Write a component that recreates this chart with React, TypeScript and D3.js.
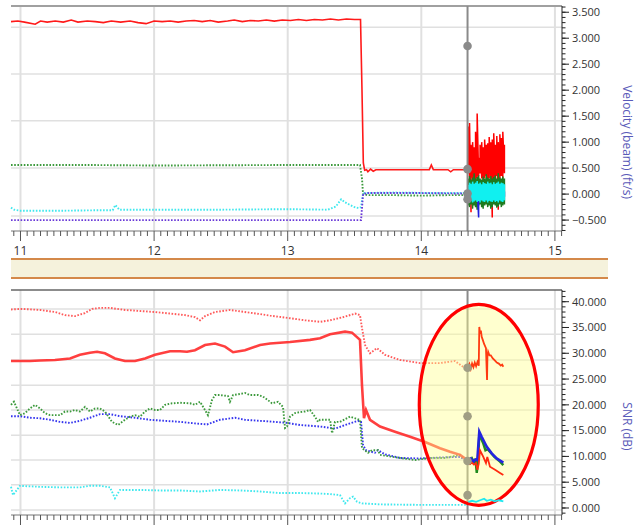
import React from 'react';
import * as d3 from 'd3';

type Pt = [number, number];

// time axis (hours)
const xTicks = [11, 12, 13, 14, 15];
const cursorT = 14.346;

// top panel: velocity (beam) ft/s
const velTicks = [-0.5, 0, 0.5, 1, 1.5, 2, 2.5, 3, 3.5];
const velGrid = [-0.42, 0.5, 1.41, 2.31, 3.21];
const velCursorDots = [2.85, 0.48, 0.01, -0.1];

const velRed: Pt[] = [
  [10.929, 3.32], [10.98, 3.33], [11.03, 3.31], [11.11, 3.27], [11.15, 3.33], [11.2, 3.31], [11.26, 3.33],
  [11.32, 3.31], [11.38, 3.35], [11.43, 3.31], [11.5, 3.33], [11.56, 3.32], [11.62, 3.3], [11.68, 3.33],
  [11.75, 3.31], [11.82, 3.33], [11.88, 3.3], [11.94, 3.28], [12.0, 3.33], [12.06, 3.32], [12.12, 3.33],
  [12.18, 3.31], [12.24, 3.33], [12.3, 3.34], [12.36, 3.32], [12.42, 3.34], [12.48, 3.31], [12.55, 3.33],
  [12.6, 3.35], [12.66, 3.32], [12.72, 3.34], [12.78, 3.33], [12.84, 3.35], [12.9, 3.33], [12.96, 3.35],
  [13.02, 3.34], [13.08, 3.36], [13.14, 3.34], [13.2, 3.36], [13.26, 3.35], [13.32, 3.37], [13.38, 3.35],
  [13.44, 3.37], [13.5, 3.36], [13.545, 3.36], [13.556, 2.0], [13.566, 0.6], [13.576, 0.46], [13.59, 0.47],
  [13.6, 0.43], [13.62, 0.48], [13.64, 0.44], [13.66, 0.47], [13.8, 0.47], [14.06, 0.47], [14.075, 0.56],
  [14.09, 0.47], [14.2, 0.47], [14.22, 0.43], [14.24, 0.47], [14.342, 0.47],
];
const velGreen: Pt[] = [
  [10.929, 0.56], [11.5, 0.56], [12.0, 0.55], [12.5, 0.555], [13.0, 0.56], [13.541, 0.56], [13.556, 0.3],
  [13.564, 0.0], [13.6, -0.02], [13.8, -0.02], [14.0, -0.03], [14.2, -0.02], [14.342, -0.02],
];
const velCyan: Pt[] = [
  [10.929, -0.26], [10.951, -0.3], [11.0, -0.32], [11.3, -0.32], [11.6, -0.31], [11.69, -0.31], [11.71, -0.21],
  [11.74, -0.3], [12.0, -0.3], [12.5, -0.3], [13.0, -0.29], [13.3, -0.3], [13.36, -0.24], [13.4, -0.1],
  [13.43, -0.16], [13.46, -0.2], [13.5, -0.25], [13.53, -0.27], [13.549, -0.25], [13.564, 0.02], [13.8, 0.03],
  [14.1, 0.02], [14.342, 0.02],
];
const velPurple: Pt[] = [
  [10.929, -0.5], [12.0, -0.5], [13.0, -0.5], [13.549, -0.5], [13.564, 0.0], [13.6, 0.02], [14.0, 0.02],
  [14.342, 0.01],
];

// noisy burst after the cursor (low / high envelope per sample)
const noiseT = [
  14.35, 14.361, 14.372, 14.384, 14.395, 14.406, 14.418, 14.429, 14.44, 14.452, 14.463, 14.474, 14.486,
  14.497, 14.508, 14.52, 14.531, 14.542, 14.554, 14.565, 14.576, 14.588, 14.599, 14.61, 14.622,
];
const redLo = [0.4, 0.3, -0.35, 0.3, 0.25, -0.2, 0.3, 0.35, 0.4, 0.3, 0.25, 0.3, 0.35, -0.1, 0.3, 0.35, -0.45, 0.3, 0.25, 0.35, -0.3, 0.3, 0.35, 0.3, 0.4];
const redHi = [1.3, 1.37, 0.95, 1.0, 0.9, 1.2, 1.55, 0.7, 0.95, 1.0, 0.9, 1.05, 0.95, 0.98, 1.1, 1.0, 1.05, 1.17, 0.95, 1.12, 1.0, 1.15, 1.08, 1.2, 0.95];
const greenLo = [-0.22, -0.25, -0.2, -0.28, -0.22, -0.25, -0.3, -0.22, -0.2, -0.25, -0.28, -0.22, -0.2, -0.25, -0.22, -0.28, -0.25, -0.2, -0.22, -0.26, -0.24, -0.2, -0.25, -0.22, -0.2];
const greenHi = [0.3, 0.35, 0.28, 0.32, 0.4, 0.3, 0.33, 0.36, 0.3, 0.28, 0.34, 0.3, 0.38, 0.32, 0.3, 0.35, 0.3, 0.33, 0.36, 0.3, 0.4, 0.32, 0.3, 0.34, 0.3];
const blueLo = [-0.05, -0.08, -0.06, -0.1, -0.05, -0.07, -0.08, -0.45, -0.1, -0.05, -0.07, -0.06, -0.08, -0.1, -0.05, -0.06, -0.08, -0.05, -0.07, -0.1, -0.06, -0.05, -0.08, -0.06, -0.05];
const blueHi = [0.05, 0.08, 0.06, 0.1, 0.05, 0.07, 0.08, 0.06, 0.1, 0.05, 0.07, 0.06, 0.08, 0.1, 0.05, 0.06, 0.08, 0.05, 0.07, 0.1, 0.06, 0.05, 0.08, 0.06, 0.05];
const cyanLo = [-0.1, -0.15, -0.12, -0.16, -0.14, -0.12, -0.15, -0.13, -0.16, -0.12, -0.14, -0.15, -0.12, -0.16, -0.13, -0.14, -0.15, -0.12, -0.15, -0.13, -0.16, -0.12, -0.14, -0.15, -0.12];
const cyanHi = [0.18, 0.22, 0.2, 0.24, 0.2, 0.22, 0.25, 0.2, 0.22, 0.19, 0.23, 0.21, 0.2, 0.24, 0.21, 0.22, 0.19, 0.23, 0.2, 0.22, 0.24, 0.2, 0.22, 0.21, 0.19];

// bottom panel: SNR (dB)
const snrTicks = [0, 5, 10, 15, 20, 25, 30, 35, 40];
const snrGrid = [-0.4, 4.5, 9.3, 14.1, 19.0, 23.8, 28.7, 33.7, 38.6];
const snrCursorDots = [27.2, 17.8, 9.1, 2.5];
const highlight = { t: 14.43, snr: 20.0 };

const snrRedDot: Pt[] = [
  [10.929, 38.5], [11.011, 38.6], [11.146, 38.4], [11.258, 38.0], [11.333, 37.4], [11.408, 37.2], [11.483, 37.8],
  [11.535, 38.6], [11.595, 38.8], [11.67, 38.8], [11.782, 38.4], [11.894, 38.2], [12.007, 38.0], [12.119, 37.7],
  [12.231, 37.4], [12.306, 37.0], [12.344, 36.4], [12.381, 37.2], [12.456, 38.0], [12.568, 38.4], [12.68, 38.0],
  [12.793, 37.6], [12.868, 37.3], [13.017, 36.8], [13.129, 36.4], [13.242, 36.1], [13.317, 36.4], [13.429, 37.1],
  [13.504, 37.7], [13.541, 37.4], [13.556, 34.9], [13.579, 31.6], [13.616, 30.0], [13.668, 31.0], [13.728, 29.7],
  [13.841, 28.7], [13.99, 28.1], [14.14, 28.1], [14.252, 28.5], [14.305, 27.5], [14.342, 27.2],
];
const snrRed: Pt[] = [
  [10.929, 28.5], [11.071, 28.5], [11.146, 28.6], [11.258, 28.7], [11.371, 29.0], [11.445, 29.7], [11.52, 30.1],
  [11.573, 30.3], [11.632, 30.0], [11.707, 29.0], [11.782, 28.5], [11.857, 28.5], [11.932, 29.0], [12.007, 29.7],
  [12.119, 30.4], [12.194, 30.4], [12.246, 30.3], [12.306, 30.6], [12.381, 31.6], [12.456, 31.9], [12.531, 31.3],
  [12.591, 30.2], [12.68, 30.6], [12.793, 31.6], [12.868, 31.9], [13.017, 32.2], [13.167, 32.6], [13.242, 32.9],
  [13.317, 33.7], [13.429, 34.2], [13.481, 34.0], [13.541, 32.6], [13.556, 23.8], [13.571, 17.4], [13.586, 19.0],
  [13.616, 17.1], [13.691, 15.8], [13.803, 14.8], [13.916, 13.8], [14.028, 12.8], [14.14, 11.6], [14.215, 10.9],
  [14.29, 10.3], [14.327, 9.6], [14.342, 9.1],
];
const snrGreen: Pt[] = [
  [10.929, 20.0], [10.951, 20.6], [10.974, 19.3], [10.996, 18.0], [11.034, 18.4], [11.071, 19.3], [11.109, 20.0],
  [11.146, 19.3], [11.183, 18.4], [11.221, 18.0], [11.296, 18.0], [11.333, 18.7], [11.371, 18.7], [11.408, 19.0],
  [11.445, 18.7], [11.483, 19.6], [11.52, 18.7], [11.558, 19.3], [11.595, 19.3], [11.632, 18.7], [11.685, 16.7],
  [11.73, 16.1], [11.782, 17.1], [11.82, 17.7], [11.857, 18.0], [11.894, 17.7], [11.932, 18.7], [11.969, 19.3],
  [12.007, 19.0], [12.044, 19.0], [12.082, 20.0], [12.134, 20.3], [12.194, 20.4], [12.269, 20.3], [12.306, 20.0],
  [12.344, 20.6], [12.381, 19.0], [12.403, 18.0], [12.433, 20.9], [12.456, 21.9], [12.493, 21.9], [12.553, 21.7],
  [12.568, 20.6], [12.591, 21.9], [12.643, 22.1], [12.68, 22.3], [12.718, 21.9], [12.778, 21.9], [12.815, 21.6],
  [12.853, 20.9], [12.882, 20.3], [12.927, 20.6], [12.965, 19.6], [12.98, 15.5], [12.995, 15.8], [13.017, 17.7],
  [13.055, 18.4], [13.092, 18.6], [13.129, 18.7], [13.167, 19.0], [13.204, 17.7], [13.227, 16.7], [13.242, 17.1],
  [13.317, 17.1], [13.332, 14.5], [13.354, 16.7], [13.391, 16.7], [13.466, 17.7], [13.541, 17.1], [13.556, 11.6],
  [13.601, 10.7], [13.631, 11.2], [13.676, 11.2], [13.691, 10.3], [13.841, 9.7], [13.953, 9.3], [14.065, 9.7],
  [14.177, 9.7], [14.215, 9.9], [14.29, 10.3], [14.342, 9.1],
];
const snrBlue: Pt[] = [
  [10.929, 17.8], [10.996, 17.8], [11.071, 17.5], [11.146, 17.4], [11.221, 17.1], [11.296, 16.7], [11.371, 16.5],
  [11.445, 16.9], [11.52, 17.5], [11.595, 18.2], [11.67, 18.2], [11.745, 17.8], [11.857, 17.5], [11.969, 17.1],
  [12.082, 16.9], [12.194, 16.7], [12.306, 16.4], [12.396, 16.2], [12.493, 17.1], [12.606, 17.5], [12.68, 17.1],
  [12.793, 16.9], [12.905, 16.7], [12.995, 16.5], [13.092, 16.1], [13.242, 15.8], [13.354, 15.4], [13.466, 16.4],
  [13.526, 16.9], [13.549, 16.7], [13.564, 12.2], [13.586, 11.2], [13.653, 10.7], [13.676, 11.2], [13.728, 10.4],
  [13.841, 9.7], [13.99, 9.6], [14.14, 9.8], [14.29, 9.9], [14.342, 9.1],
];
const snrCyan: Pt[] = [
  [10.929, 4.1], [10.944, 2.5], [10.996, 4.3], [11.146, 4.1], [11.296, 4.0], [11.445, 4.0], [11.52, 4.3],
  [11.595, 4.3], [11.67, 4.0], [11.707, 1.9], [11.745, 3.5], [11.894, 3.5], [12.044, 3.4], [12.194, 3.4],
  [12.344, 3.2], [12.493, 3.5], [12.643, 3.4], [12.793, 3.2], [12.942, 2.9], [13.092, 2.9], [13.242, 2.8],
  [13.317, 2.7], [13.391, 2.5], [13.429, 0.9], [13.466, 1.9], [13.489, 2.2], [13.519, 1.2], [13.556, 0.9],
  [13.691, 0.7], [13.99, 0.6], [14.29, 0.6], [14.342, 0.6],
];
// after the cursor
const snrRedDotAfter: Pt[] = [
  [14.35, 27.2], [14.36, 27.9], [14.37, 27.0], [14.38, 28.0], [14.39, 27.3], [14.4, 28.2], [14.41, 27.5],
  [14.42, 28.3], [14.43, 27.6], [14.434, 35.1], [14.44, 33.8], [14.446, 34.4], [14.452, 33.2], [14.46, 32.6],
  [14.47, 31.8], [14.484, 31.0], [14.489, 27.0], [14.492, 24.8], [14.495, 29.5], [14.5, 30.3], [14.51, 29.6],
  [14.52, 29.6], [14.535, 29.0], [14.55, 28.6], [14.565, 28.2], [14.58, 28.0], [14.595, 27.6], [14.605, 27.8],
  [14.614, 27.4],
];
const snrRedAfter: Pt[] = [
  [14.35, 8.9], [14.364, 8.5], [14.379, 8.8], [14.394, 8.4], [14.409, 8.7], [14.42, 7.4], [14.43, 8.6],
  [14.439, 11.2], [14.464, 9.9], [14.484, 8.7], [14.494, 9.9], [14.514, 8.0], [14.552, 7.4], [14.589, 6.8],
  [14.614, 6.4],
];
const snrGreenAfter: Pt[] = [
  [14.352, 9.4], [14.365, 8.8], [14.38, 9.6], [14.395, 8.9], [14.405, 9.5], [14.415, 6.8], [14.425, 9.2],
  [14.434, 14.3], [14.464, 12.5], [14.48, 11.2], [14.497, 11.4], [14.547, 9.9], [14.589, 9.0], [14.614, 8.3],
];
const snrBlueAfter: Pt[] = [
  [14.352, 9.3], [14.37, 9.6], [14.389, 9.0], [14.405, 9.4], [14.419, 9.3], [14.434, 14.8], [14.452, 13.8],
  [14.489, 11.9], [14.527, 10.6], [14.564, 9.6], [14.614, 8.8],
];
const snrCyanAfter: Pt[] = [
  [14.352, 1.2], [14.38, 1.4], [14.41, 1.2], [14.44, 1.5], [14.47, 1.8], [14.49, 1.4], [14.52, 1.6],
  [14.55, 1.3], [14.58, 1.5], [14.614, 1.3],
];

const FONT = "'Segoe UI', 'Open Sans', 'DejaVu Sans', sans-serif";
const RED = '#ff1a1a';
const GREEN = '#3d9a3d';
const CYAN = '#3fe8ee';
const BLUE = '#3535ee';

const zig = (lo: number[], hi: number[]): Pt[] =>
  noiseT.flatMap((t, i) => [[t, lo[i]], [t, hi[i]]] as Pt[]);

const App = () => {
  const left = 11;
  const right = 562;
  const x = d3.scaleLinear().domain([10.929, 15.053]).range([left, right]);
  const yVel = d3.scaleLinear().domain([-0.71, 3.62]).range([231, 6]);
  const ySnr = d3.scaleLinear().domain([-1.36, 42.27]).range([515, 290]);

  const lineVel = d3.line<Pt>().x((d) => x(d[0])).y((d) => yVel(d[1]));
  const lineSnr = d3.line<Pt>().x((d) => x(d[0])).y((d) => ySnr(d[1]));

  const minorX = d3.range(10.95, 15.06, 0.05);
  const minorVel = d3.range(-0.7, 3.61, 0.1);
  const minorSnr = d3.range(-1, 42.1, 1);

  const dotted = { fill: 'none', strokeWidth: 1.9, strokeDasharray: '1.6,1.6' };

  const xAxis = (y0: number, labels: boolean) => (
    <g>
      <line x1={left} x2={right} y1={y0} y2={y0} stroke="#777" strokeWidth={1} />
      {minorX.map((v, i) => {
        const major = Math.abs(v - Math.round(v)) < 0.01;
        return (
          <line key={i} x1={x(v)} x2={x(v)} y1={y0} y2={y0 + (major ? 10 : 5)} stroke="#555" strokeWidth={1} />
        );
      })}
      {labels &&
        xTicks.map((t) => (
          <text key={t} x={x(t)} y={y0 + 24} textAnchor="middle" fontSize={12} fill="#333" fontFamily={FONT}>
            {t}
          </text>
        ))}
    </g>
  );

  return (
    <svg width={637} height={529} style={{ position: 'absolute', left: 0, top: 0, background: '#fff' }}>
      {/* gridlines */}
      {velGrid.map((v) => (
        <line key={'vg' + v} x1={left} x2={right} y1={yVel(v)} y2={yVel(v)} stroke="#e0e0e0" strokeWidth={1.5} />
      ))}
      {snrGrid.map((v) => (
        <line key={'sg' + v} x1={left} x2={right} y1={ySnr(v)} y2={ySnr(v)} stroke="#e0e0e0" strokeWidth={1.5} />
      ))}
      {xTicks.map((t) => (
        <g key={'xg' + t}>
          <line x1={x(t)} x2={x(t)} y1={6} y2={231} stroke="#e0e0e0" strokeWidth={2} />
          <line x1={x(t)} x2={x(t)} y1={290} y2={515} stroke="#e0e0e0" strokeWidth={2} />
        </g>
      ))}

      {/* panel frames */}
      <line x1={left} x2={right} y1={6} y2={6} stroke="#a0a0a0" strokeWidth={2} />
      <line x1={left} x2={right} y1={290} y2={290} stroke="#666" strokeWidth={1.5} />

      {/* top panel series */}
      <path d={lineVel(velGreen) ?? ''} stroke={GREEN} {...dotted} />
      <path d={lineVel(velCyan) ?? ''} stroke={CYAN} {...dotted} />
      <path d={lineVel(velPurple) ?? ''} stroke="#6a3ad8" {...dotted} />
      <path d={lineVel(velRed) ?? ''} stroke={RED} fill="none" strokeWidth={1.6} />
      <path d={lineVel(zig(redLo, redHi)) ?? ''} stroke="#ff0000" fill="none" strokeWidth={1.5} />
      <path d={lineVel(zig(greenLo, greenHi)) ?? ''} stroke="#1e7a1e" fill="none" strokeWidth={1.5} />
      <path d={lineVel(zig(blueLo, blueHi)) ?? ''} stroke="#2020dd" fill="none" strokeWidth={1.5} />
      <path d={lineVel(zig(cyanLo, cyanHi)) ?? ''} stroke="#10f0f0" fill="none" strokeWidth={1.5} />

      {/* bottom panel series */}
      <path d={lineSnr(snrCyan) ?? ''} stroke={CYAN} {...dotted} />
      <path d={lineSnr(snrBlue) ?? ''} stroke={BLUE} {...dotted} />
      <path d={lineSnr(snrGreen) ?? ''} stroke={GREEN} {...dotted} />
      <path d={lineSnr(snrRedDot) ?? ''} stroke="#ff5a5a" {...dotted} />
      <path d={lineSnr(snrRed) ?? ''} stroke="#ff2a2a" fill="none" strokeWidth={2.6} strokeOpacity={0.9} />

      {/* cursor */}
      <line x1={x(cursorT)} x2={x(cursorT)} y1={6} y2={231} stroke="#8a8a8a" strokeWidth={2} />
      <line x1={x(cursorT)} x2={x(cursorT)} y1={290} y2={515} stroke="#8a8a8a" strokeWidth={2} />
      {velCursorDots.map((v, i) => (
        <circle key={'vd' + i} cx={x(cursorT)} cy={yVel(v)} r={4.3} fill="#8a8a8a" />
      ))}

      {/* highlight ellipse */}
      <ellipse
        cx={x(highlight.t)}
        cy={ySnr(highlight.snr)}
        rx={59.5}
        ry={100.5}
        fill="rgba(255,255,140,0.42)"
        stroke="#ff0000"
        strokeWidth={3.2}
      />

      {/* burst after the cursor, above the highlight */}
      <path d={lineSnr(snrCyanAfter) ?? ''} stroke="#20e8f0" fill="none" strokeWidth={1.8} />
      <path d={lineSnr(snrGreenAfter) ?? ''} stroke="#1f8a1f" fill="none" strokeWidth={2.4} />
      <path d={lineSnr(snrBlueAfter) ?? ''} stroke="#2424e0" fill="none" strokeWidth={2.6} />
      <path d={lineSnr(snrRedAfter) ?? ''} stroke="#ff2a10" fill="none" strokeWidth={1.8} />
      <path d={lineSnr(snrRedDotAfter) ?? ''} stroke="#ff3a10" fill="none" strokeWidth={1.8} />
      {snrCursorDots.map((v, i) => (
        <circle key={'sd' + i} cx={x(cursorT)} cy={ySnr(v)} r={4.3} fill="#a09e84" />
      ))}

      {/* x axes */}
      {xAxis(231, true)}
      {xAxis(515, false)}

      {/* separator band */}
      <rect x={left} y={259} width={597} height={19} fill="#f5f2dc" />
      <line x1={left} x2={608} y1={259} y2={259} stroke="#d4894a" strokeWidth={2} />
      <line x1={left} x2={608} y1={278} y2={278} stroke="#d4894a" strokeWidth={2} />

      {/* right axes */}
      <line x1={right} x2={right} y1={6} y2={231} stroke="#222" strokeWidth={1} />
      {minorVel.map((v, i) => (
        <line key={'mv' + i} x1={right} x2={right + 3.5} y1={yVel(v)} y2={yVel(v)} stroke="#222" strokeWidth={1} />
      ))}
      {velTicks.map((v) => (
        <g key={'tv' + v}>
          <line x1={right} x2={right + 7} y1={yVel(v)} y2={yVel(v)} stroke="#222" strokeWidth={1} />
          <text x={right + 10} y={yVel(v)} dy="0.35em" fontSize={11} fill="#333" fontFamily={FONT}>
            {d3.format('.3f')(v)}
          </text>
        </g>
      ))}
      <line x1={right} x2={right} y1={290} y2={515} stroke="#222" strokeWidth={1} />
      {minorSnr.map((v, i) => (
        <line key={'ms' + i} x1={right} x2={right + 3.5} y1={ySnr(v)} y2={ySnr(v)} stroke="#222" strokeWidth={1} />
      ))}
      {snrTicks.map((v) => (
        <g key={'ts' + v}>
          <line x1={right} x2={right + 7} y1={ySnr(v)} y2={ySnr(v)} stroke="#222" strokeWidth={1} />
          <text x={right + 10} y={ySnr(v)} dy="0.35em" fontSize={11} fill="#333" fontFamily={FONT}>
            {d3.format('.3f')(v)}
          </text>
        </g>
      ))}

      {/* axis titles */}
      <text
        transform={`translate(627,${yVel(1.0)}) rotate(90)`}
        textAnchor="middle"
        dy="0.35em"
        fontSize={12}
        fill="#5a5ab8"
        fontFamily={FONT}
      >
        Velocity (beam) (ft/s)
      </text>
      <text
        transform={`translate(627,${ySnr(15.8)}) rotate(90)`}
        textAnchor="middle"
        dy="0.35em"
        fontSize={12}
        fill="#5a5ab8"
        fontFamily={FONT}
      >
        SNR (dB)
      </text>
    </svg>
  );
};

export default App;
